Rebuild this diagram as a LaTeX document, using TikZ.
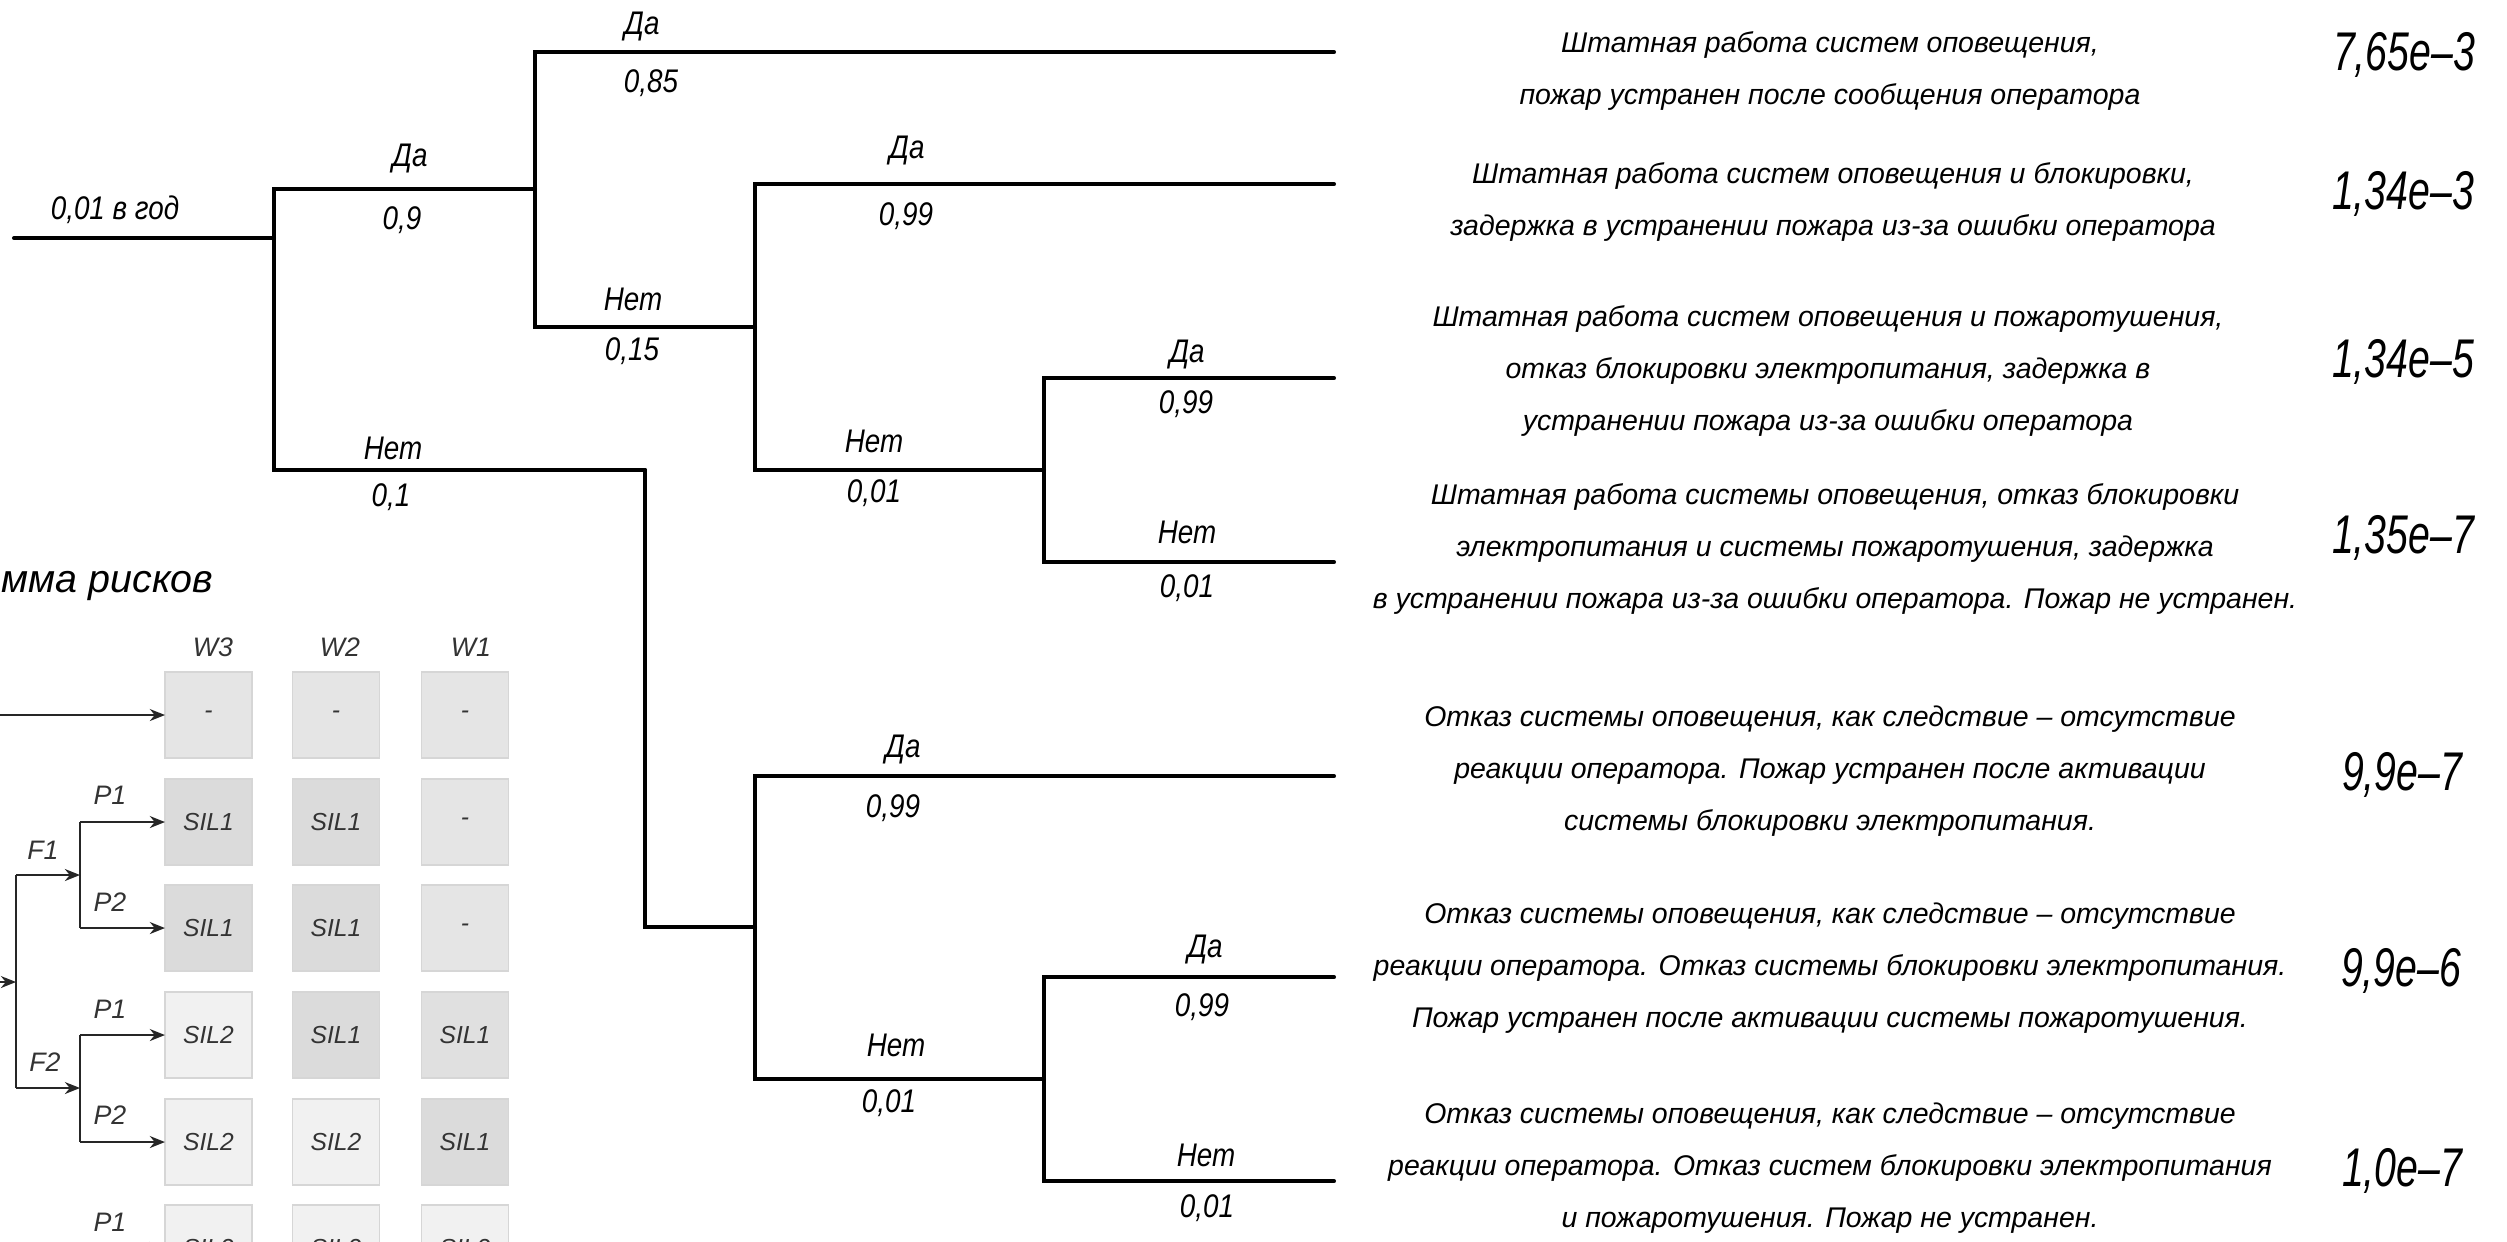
\documentclass[tikz,border=0pt]{standalone}
\usepackage{fontspec}
\setmainfont{Liberation Sans}
\newfontfamily\treefont{Liberation Sans}[FakeStretch=0.85]
\newfontfamily\numfont{Liberation Sans}[FakeStretch=0.72]
\usetikzlibrary{arrows.meta}
\definecolor{boxA}{gray}{0.90}
\definecolor{boxB}{gray}{0.86}
\definecolor{boxC}{gray}{0.945}
\definecolor{boxD}{gray}{0.88}
\definecolor{boxline}{gray}{0.84}
\definecolor{rgtext}{gray}{0.2}
\definecolor{rglinecol}{gray}{0.15}
\begin{document}
\begin{tikzpicture}[x=0.01cm,y=-0.01cm,
  branch/.style={line width=1.15pt,line cap=round,line join=miter},
  lbl/.style={font=\treefont\itshape\fontsize{9.3}{10}\selectfont,inner sep=0pt},
  desc/.style={font=\itshape\fontsize{8.1}{14.8}\selectfont,align=center,inner sep=0pt},
  num/.style={font=\numfont\itshape\fontsize{15.5}{16}\selectfont,inner sep=0pt},
  rgtxt/.style={font=\itshape\fontsize{7.6}{8}\selectfont,text=rgtext,inner sep=0pt},
  rgbox/.style={draw=boxline,line width=0.4pt,minimum width=0.87cm,minimum height=0.86cm,inner sep=0pt,outer sep=0pt,font=\itshape\fontsize{7}{8}\selectfont,text=rgtext},
  rgarrow/.style={draw=rglinecol,line width=0.6pt,-{Stealth[length=4.3pt,width=3.4pt]}},
  rgedge/.style={draw=rglinecol,line width=0.6pt}
]
\useasboundingbox (0,0) rectangle (2507,1241);
\clip (0,0) rectangle (2507,1241);

% ---------------- event tree ----------------
\coordinate (s) at (14,238);
\coordinate (A) at (274,238);
\coordinate (B) at (535,189);
\coordinate (C) at (645,470);
\coordinate (D) at (755,327);
\coordinate (E) at (1044,470);
\coordinate (F) at (755,927);
\coordinate (G) at (1044,1079);
\coordinate (L1) at (1334,52);
\coordinate (L2) at (1334,184);
\coordinate (L3) at (1334,378);
\coordinate (L4) at (1334,562);
\coordinate (L5) at (1334,776);
\coordinate (L6) at (1334,977);
\coordinate (L7) at (1334,1181);

\draw[branch] (s) -- (A);
\draw[branch] (A) |- (B);
\draw[branch] (A) |- (C);
\draw[branch] (B) |- (L1);
\draw[branch] (B) |- (D);
\draw[branch] (D) |- (L2);
\draw[branch] (D) |- (E);
\draw[branch] (E) |- (L3);
\draw[branch] (E) |- (L4);
\draw[branch] (C) |- (F);
\draw[branch] (F) |- (L5);
\draw[branch] (F) |- (G);
\draw[branch] (G) |- (L6);
\draw[branch] (G) |- (L7);

\node[lbl] (t0) at (115,210) {0,01 в год};
\node[lbl] (tAy) at (410,158) {Да};
\node[lbl] (pAy) at (402,220) {0,9};
\node[lbl] (tAn) at (393,448) {Нет};
\node[lbl] (pAn) at (391,497) {0,1};
\node[lbl] (tBy) at (642,26) {Да};
\node[lbl] (pBy) at (651,83) {0,85};
\node[lbl] (tBn) at (633,299) {Нет};
\node[lbl] (pBn) at (632,351) {0,15};
\node[lbl] (tDy) at (907,150) {Да};
\node[lbl] (pDy) at (906,216) {0,99};
\node[lbl] (tDn) at (874,441) {Нет};
\node[lbl] (pDn) at (874,493) {0,01};
\node[lbl] (tEy) at (1187,354) {Да};
\node[lbl] (pEy) at (1186,404) {0,99};
\node[lbl] (tEn) at (1187,532) {Нет};
\node[lbl] (pEn) at (1187,588) {0,01};
\node[lbl] (tFy) at (903,749) {Да};
\node[lbl] (pFy) at (893,808) {0,99};
\node[lbl] (tFn) at (896,1045) {Нет};
\node[lbl] (pFn) at (889,1103) {0,01};
\node[lbl] (tGy) at (1205,949) {Да};
\node[lbl] (pGy) at (1202,1007) {0,99};
\node[lbl] (tGn) at (1206,1155) {Нет};
\node[lbl] (pGn) at (1207,1208) {0,01};

% ---------------- outcomes ----------------
\node[desc] (d1) at (1830,71) {Штатная работа систем оповещения,\\пожар устранен после сообщения оператора};
\node[desc] (d2) at (1833,202) {Штатная работа систем оповещения и блокировки,\\задержка в устранении пожара из-за ошибки оператора};
\node[desc] (d3) at (1828,371) {Штатная работа систем оповещения и пожаротушения,\\отказ блокировки электропитания, задержка в\\устранении пожара из-за ошибки оператора};
\node[desc] (d4) at (1835,549) {Штатная работа системы оповещения, отказ блокировки\\электропитания и системы пожаротушения, задержка\\в устранении пожара из-за ошибки оператора. Пожар не устранен.};
\node[desc] (d5) at (1830,771) {Отказ системы оповещения, как следствие – отсутствие\\реакции оператора. Пожар устранен после активации\\системы блокировки электропитания.};
\node[desc] (d6) at (1830,968) {Отказ системы оповещения, как следствие – отсутствие\\реакции оператора. Отказ системы блокировки электропитания.\\Пожар устранен после активации системы пожаротушения.};
\node[desc] (d7) at (1830,1168) {Отказ системы оповещения, как следствие – отсутствие\\реакции оператора. Отказ систем блокировки электропитания\\и пожаротушения. Пожар не устранен.};

\node[num] (n1) at (2404,55) {7,65e–3};
\node[num] (n2) at (2403,194) {1,34e–3};
\node[num] (n3) at (2403,362) {1,34e–5};
\node[num] (n4) at (2403,538) {1,35e–7};
\node[num] (n5) at (2402,775) {9,9e–7};
\node[num] (n6) at (2401,971) {9,9e–6};
\node[num] (n7) at (2402,1171) {1,0e–7};

% ---------------- risk graph ----------------
\node[font=\itshape\fontsize{11.2}{13}\selectfont,inner sep=0pt,anchor=base west] (title) at (1,592) {мма рисков};

\node[rgtxt] (w3) at (213,647) {W3};
\node[rgtxt] (w2) at (340,647) {W2};
\node[rgtxt] (w1) at (471,647) {W1};

\node[rgbox,fill=boxA] (b11) at (208.5,715) {-};
\node[rgbox,fill=boxA] (b12) at (336,715) {-};
\node[rgbox,fill=boxA] (b13) at (465,715) {-};
\node[rgbox,fill=boxB] (b21) at (208.5,822) {SIL1};
\node[rgbox,fill=boxB] (b22) at (336,822) {SIL1};
\node[rgbox,fill=boxA] (b23) at (465,822) {-};
\node[rgbox,fill=boxB] (b31) at (208.5,928) {SIL1};
\node[rgbox,fill=boxB] (b32) at (336,928) {SIL1};
\node[rgbox,fill=boxA] (b33) at (465,928) {-};
\node[rgbox,fill=boxC] (b41) at (208.5,1035) {SIL2};
\node[rgbox,fill=boxB] (b42) at (336,1035) {SIL1};
\node[rgbox,fill=boxD] (b43) at (465,1035) {SIL1};
\node[rgbox,fill=boxC] (b51) at (208.5,1142) {SIL2};
\node[rgbox,fill=boxC] (b52) at (336,1142) {SIL2};
\node[rgbox,fill=boxB] (b53) at (465,1142) {SIL1};
\node[rgbox,fill=boxC] (b61) at (208.5,1248) {SIL2};
\node[rgbox,fill=boxC] (b62) at (336,1248) {SIL2};
\node[rgbox,fill=boxC] (b63) at (465,1248) {SIL2};

\coordinate (in0) at (0,715);
\coordinate (in1) at (0,982);
\coordinate (fm) at (16,982);
\coordinate (fT) at (16,875);
\coordinate (fB) at (16,1088);
\coordinate (p1m) at (80,875);
\coordinate (p1T) at (80,822);
\coordinate (p1B) at (80,928);
\coordinate (p2m) at (80,1088);
\coordinate (p2T) at (80,1035);
\coordinate (p2B) at (80,1142);
\coordinate (p3T) at (80,1248);

\draw[rgarrow] (in0) -- (b11.west);
\draw[rgarrow] (in1) -- (fm);
\draw[rgedge] (fT) -- (fB);
\draw[rgarrow] (fT) -- (p1m);
\draw[rgarrow] (fB) -- (p2m);
\draw[rgedge] (p1T) -- (p1B);
\draw[rgedge] (p2T) -- (p2B);
\draw[rgarrow] (p1T) -- (b21.west);
\draw[rgarrow] (p1B) -- (b31.west);
\draw[rgarrow] (p2T) -- (b41.west);
\draw[rgarrow] (p2B) -- (b51.west);
\draw[rgarrow] (p3T) -- (b61.west);

\node[rgtxt] (F1) at (43,850) {F1};
\node[rgtxt] (F2) at (45,1062) {F2};
\node[rgtxt] (P11) at (110,795) {P1};
\node[rgtxt] (P12) at (110,902) {P2};
\node[rgtxt] (P21) at (110,1009) {P1};
\node[rgtxt] (P22) at (110,1115) {P2};
\node[rgtxt] (P31) at (110,1222) {P1};
\end{tikzpicture}
\end{document}
